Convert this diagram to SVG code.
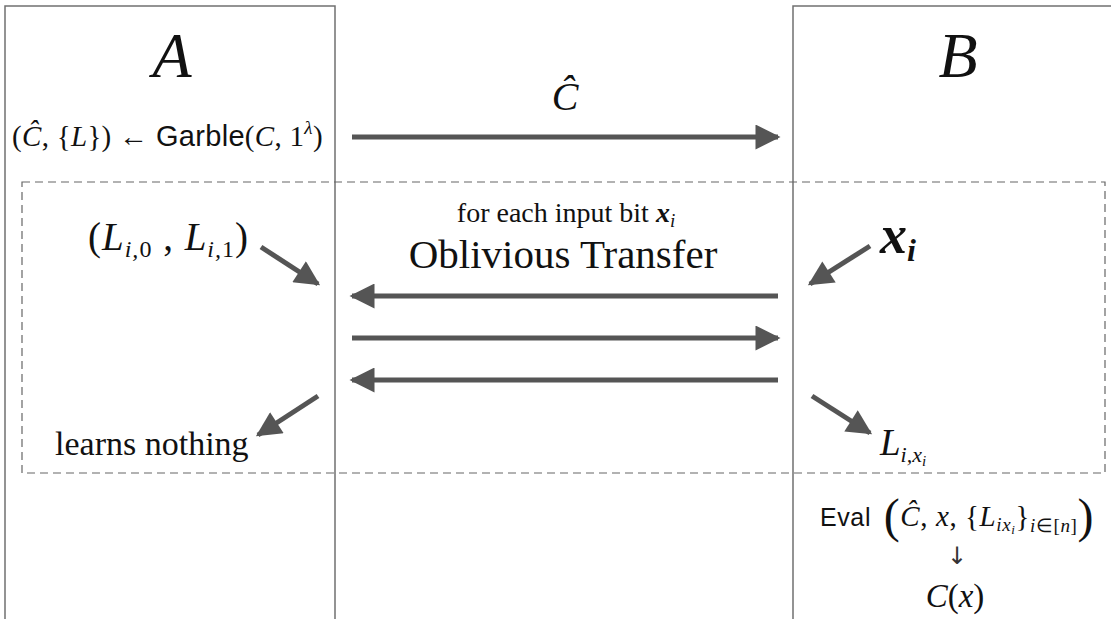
<svg xmlns="http://www.w3.org/2000/svg" width="1111" height="619" viewBox="0 0 1111 619">
<style>
.party{fill:none;stroke:#707070;stroke-width:1.5}
.dash{fill:none;stroke:#666;stroke-width:1.2;stroke-dasharray:8,5}
.arr{stroke:#555;stroke-width:5;fill:none}
.m{font-family:"Liberation Serif",serif;font-style:italic;fill:#111}
.r{font-family:"Liberation Serif",serif;fill:#111}
.s{font-family:"Liberation Sans",sans-serif;fill:#111}
</style>
<defs>
<marker id="ah" viewBox="0 0 10 10" refX="9" refY="5" markerWidth="6.5" markerHeight="5" markerUnits="strokeWidth" orient="auto">
<path d="M0,0 L10,5 L0,10 z" fill="#555"/>
</marker>
</defs>
<rect width="1111" height="619" fill="#fff"/>
<g id="partyA">
<path class="party" d="M5,625 V6 H335 V625"/>
<text class="m" x="172" y="77" font-size="64" text-anchor="middle">A</text>
<text x="12" y="146" font-size="29" letter-spacing="0.3"><tspan class="r">(</tspan><tspan class="m">Ĉ</tspan><tspan class="r">, {</tspan><tspan class="m">L</tspan><tspan class="r">}) ← </tspan><tspan class="s">Garble</tspan><tspan class="r">(</tspan><tspan class="m">C</tspan><tspan class="r">, 1</tspan><tspan class="m" font-size="19" dy="-12">λ</tspan><tspan class="r" dy="12">)</tspan></text>
</g>
<g id="partyB">
<path class="party" d="M793,625 V6 H1115"/>
<text class="m" x="958" y="77" font-size="64" text-anchor="middle">B</text>
</g>
<g id="otRegion">
<rect class="dash" x="22" y="182" width="1083" height="291"/>
<text class="r" x="566" y="222" font-size="28" text-anchor="middle">for each input bit <tspan class="m" font-weight="bold">x</tspan><tspan class="m" font-size="19" dy="5">i</tspan></text>
<text class="r" x="563" y="268" font-size="41" text-anchor="middle">Oblivious Transfer</text>
</g>
<g id="labelsA">
<text x="88" y="250" font-size="39" letter-spacing="1"><tspan class="r">(</tspan><tspan class="m">L</tspan><tspan class="m" font-size="24" dy="7">i,</tspan><tspan class="r" font-size="24">0</tspan><tspan class="r" dy="-7"> , </tspan><tspan class="m">L</tspan><tspan class="m" font-size="24" dy="7">i,</tspan><tspan class="r" font-size="24">1</tspan><tspan class="r" dy="-7">)</tspan></text>
<text class="r" x="55" y="455" font-size="34">learns nothing</text>
</g>
<g id="labelsB">
<text x="880" y="253" font-size="54"><tspan class="m" font-weight="bold">x</tspan><tspan class="m" font-size="32" dy="8" font-weight="bold">i</tspan></text>
<text x="880" y="455" font-size="37"><tspan class="m">L</tspan><tspan class="m" font-size="22" dy="7">i,x</tspan><tspan class="m" font-size="15" dy="4">i</tspan></text>
</g>
<g id="evalB">
<text x="820" y="526" font-size="29" letter-spacing="0.6"><tspan class="s" font-size="25">Eval</tspan><tspan class="r" font-size="48" dy="6"> (</tspan><tspan class="m" dy="-6">Ĉ</tspan><tspan class="r">, </tspan><tspan class="m">x</tspan><tspan class="r">, {</tspan><tspan class="m">L</tspan><tspan class="m" font-size="19" dy="5">ix</tspan><tspan class="m" font-size="13" dy="3">i</tspan><tspan class="r" dy="-8">}</tspan><tspan class="m" font-size="19" dy="6">i</tspan><tspan class="r" font-size="19">∈[</tspan><tspan class="m" font-size="19">n</tspan><tspan class="r" font-size="19">]</tspan><tspan class="r" font-size="48" dy="0">)</tspan></text>
<text x="957" y="564" font-size="24" text-anchor="middle" font-family="DejaVu Sans, sans-serif" fill="#333">↓</text>
<text x="955" y="607" font-size="33" text-anchor="middle"><tspan class="m">C</tspan><tspan class="r">(</tspan><tspan class="m">x</tspan><tspan class="r">)</tspan></text>
</g>
<g id="chat">
<text class="m" x="565" y="110" font-size="40" text-anchor="middle">Ĉ</text>
</g>
<g id="connectors">
<line class="arr" x1="352" y1="137" x2="778" y2="137" marker-end="url(#ah)"/>
<line class="arr" x1="778" y1="296" x2="352" y2="296" marker-end="url(#ah)"/>
<line class="arr" x1="352" y1="338" x2="778" y2="338" marker-end="url(#ah)"/>
<line class="arr" x1="778" y1="380" x2="352" y2="380" marker-end="url(#ah)"/>
<line class="arr" x1="261" y1="247" x2="318" y2="284" marker-end="url(#ah)"/>
<line class="arr" x1="318" y1="396" x2="258" y2="435" marker-end="url(#ah)"/>
<line class="arr" x1="870" y1="246" x2="810" y2="284" marker-end="url(#ah)"/>
<line class="arr" x1="812" y1="396" x2="870" y2="433" marker-end="url(#ah)"/>
</g>
</svg>
